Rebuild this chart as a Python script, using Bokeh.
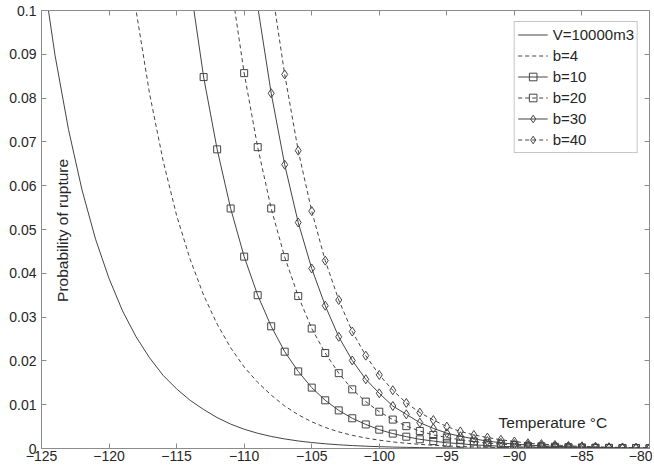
import math
from bokeh.plotting import figure
from bokeh.models import (Range1d, FixedTicker, LinearAxis, CustomJSTickFormatter, Label)
from bokeh.embed import file_html
from bokeh.resources import INLINE

# ---------------- data ----------------
x_ticks = [-125, -120, -115, -110, -105, -100, -95, -90, -85, -80]
y_ticks = [0, 0.01, 0.02, 0.03, 0.04, 0.05, 0.06, 0.07, 0.08, 0.09, 0.1]

t_v = list(range(-125, -79))
p_v = [0.1108, 0.0898, 0.0728, 0.0590, 0.0478, 0.0388, 0.0314, 0.0255, 0.0207, 0.0167,
       0.0136, 0.0110, 0.0089, 0.00705, 0.00557, 0.0044, 0.00348, 0.00275, 0.00218, 0.00172,
       0.00136, 0.00108, 0.00085, 0.00067, 0.00053, 0.00042, 0.00033, 0.00026, 0.00021, 0.00016,
       0.00013, 0.0001, 0.00008, 0.00006, 0.00005, 0.00004, 0.00003, 0.00003, 0.00002, 0.00002,
       0.00001, 0.00001, 0.00001, 0.00001, 0.00001, 0.0]

t_b4 = list(range(-119, -79))
p_b4 = [0.1233, 0.1000, 0.0810, 0.0657, 0.0532, 0.0432, 0.0350, 0.0284, 0.0230, 0.0186,
        0.0151, 0.0122, 0.0097, 0.0077, 0.0061, 0.0048, 0.0038, 0.0030, 0.0024, 0.0019,
        0.0015, 0.0012, 0.00094, 0.00074, 0.00058, 0.00046, 0.00036, 0.00028, 0.00022, 0.00018,
        0.00014, 0.00011, 0.00009, 0.00007, 0.00005, 0.00004, 0.00003, 0.00003, 0.00002, 0.00002]

t_b10 = list(range(-114, -79))
p_b10 = [0.1060, 0.0848, 0.0683, 0.0548, 0.0438, 0.0350, 0.0279, 0.0221, 0.0176, 0.0139,
         0.0110, 0.0087, 0.0069, 0.0055, 0.0043, 0.0034, 0.0027, 0.0021, 0.0017, 0.0013,
         0.0011, 0.0008, 0.0007, 0.0005, 0.0004, 0.0003, 0.00026, 0.0002, 0.00016, 0.00013,
         0.0001, 0.00008, 0.00006, 0.00005, 0.00004]

t_b20 = list(range(-111, -79))
p_b20 = [0.1065, 0.0857, 0.0688, 0.0548, 0.0437, 0.0348, 0.0274, 0.0218, 0.0172, 0.0135,
         0.0107, 0.0084, 0.0066, 0.0051, 0.0040, 0.0031, 0.0025, 0.0020, 0.0016, 0.0012,
         0.0010, 0.0008, 0.0006, 0.0005, 0.0004, 0.0003, 0.00024, 0.00019, 0.00015, 0.00012,
         0.0001, 0.00008]

t_b30 = list(range(-109, -79))
p_b30 = [0.1010, 0.0811, 0.0648, 0.0516, 0.0411, 0.0326, 0.0255, 0.0201, 0.0158, 0.0126,
         0.0097, 0.0078, 0.0059, 0.0046, 0.0035, 0.0028, 0.0022, 0.0017, 0.0013, 0.0010,
         0.0008, 0.0006, 0.0005, 0.0004, 0.0003, 0.00024, 0.00019, 0.00015, 0.00012, 0.0001]

t_b40 = list(range(-108, -79))
p_b40 = [0.1060, 0.0854, 0.0680, 0.0542, 0.0429, 0.0339, 0.0267, 0.0212, 0.0168, 0.0133,
         0.0104, 0.0082, 0.0065, 0.0050, 0.0039, 0.0031, 0.0025, 0.0020, 0.0016, 0.0012,
         0.0010, 0.0008, 0.0006, 0.0005, 0.0004, 0.0003, 0.00025, 0.0002, 0.00016]

# ---------------- styling ----------------
FONT = "Liberation Sans"
AX = "#8c8c8c"
TXT = "#262626"
LINE = "#444444"
DASH = "4 3"

p = figure(width=652, height=470, output_backend="svg", toolbar_location=None,
           x_range=Range1d(-125, -80), y_range=Range1d(0, 0.1),
           min_border_left=41, min_border_right=3, min_border_top=10, min_border_bottom=22)
p.grid.visible = False
p.outline_line_color = AX
p.background_fill_color = "white"

def style_axis(ax, ticks, show_labels=True):
    ax.ticker = FixedTicker(ticks=ticks)
    ax.major_tick_in = 5
    ax.major_tick_out = 0
    ax.minor_tick_line_color = None
    ax.axis_line_color = AX
    ax.major_tick_line_color = AX
    ax.major_label_text_font = FONT
    ax.major_label_text_color = TXT
    if not show_labels:
        ax.formatter = CustomJSTickFormatter(code="return ''")
        ax.major_label_text_font_size = "0px"
        ax.major_label_standoff = 0

xa = p.xaxis[0]
style_axis(xa, x_ticks)
xa.major_label_text_font_size = "14px"
xa.major_label_standoff = 2

ya = p.yaxis[0]
style_axis(ya, y_ticks)
ya.major_label_text_font_size = "14px"
ya.major_label_standoff = 5
ya.formatter = CustomJSTickFormatter(
    code="return tick === 0 ? '0' : tick.toFixed(2).replace(/0$/, '');")

top_ax = LinearAxis()
style_axis(top_ax, x_ticks, show_labels=False)
p.add_layout(top_ax, "above")
right_ax = LinearAxis()
style_axis(right_ax, y_ticks, show_labels=False)
p.add_layout(right_ax, "right")

# ---------------- series ----------------
p.line(t_v, p_v, line_color=LINE, line_width=1, legend_label="V=10000m3")
p.line(t_b4, p_b4, line_color=LINE, line_width=1, line_dash=DASH, legend_label="b=4")

p.line(t_b10, p_b10, line_color=LINE, line_width=1, legend_label="b=10")
p.scatter(t_b10, p_b10, marker="square", size=7, fill_color=None, line_color=LINE,
          line_width=1, legend_label="b=10")

p.line(t_b20, p_b20, line_color=LINE, line_width=1, line_dash=DASH, legend_label="b=20")
p.scatter(t_b20, p_b20, marker="square", size=7, fill_color=None, line_color=LINE,
          line_width=1, legend_label="b=20")

p.line(t_b30, p_b30, line_color=LINE, line_width=1, legend_label="b=30")
p.scatter(t_b30, p_b30, marker="diamond", size=9, fill_color=None, line_color=LINE,
          line_width=1, legend_label="b=30")

p.line(t_b40, p_b40, line_color=LINE, line_width=1, line_dash=DASH, legend_label="b=40")
p.scatter(t_b40, p_b40, marker="diamond", size=9, fill_color=None, line_color=LINE,
          line_width=1, legend_label="b=40")

# ---------------- legend ----------------
lg = p.legend[0]
lg.location = "top_right"
lg.margin = 11
lg.padding = 3
lg.spacing = 2
lg.label_height = 19
lg.glyph_height = 19
lg.glyph_width = 30
lg.label_standoff = 5
lg.label_text_font = FONT
lg.label_text_font_size = "15px"
lg.label_text_color = TXT
lg.border_line_color = AX
lg.border_line_width = 1
lg.background_fill_color = "white"
lg.background_fill_alpha = 1.0

# ---------------- in-plot axis labels ----------------
p.add_layout(Label(x=-123.45, y=0.0498, text="Probability of rupture", angle=math.pi / 2,
                   text_align="center", text_baseline="middle", text_font=FONT,
                   text_font_size="15.5px", text_color=TXT))
p.add_layout(Label(x=-87.15, y=0.0060, text="Temperature °C",
                   text_align="center", text_baseline="middle", text_font=FONT,
                   text_font_size="15.5px", text_color=TXT))

open("out.html", "w").write(file_html(p, INLINE))
